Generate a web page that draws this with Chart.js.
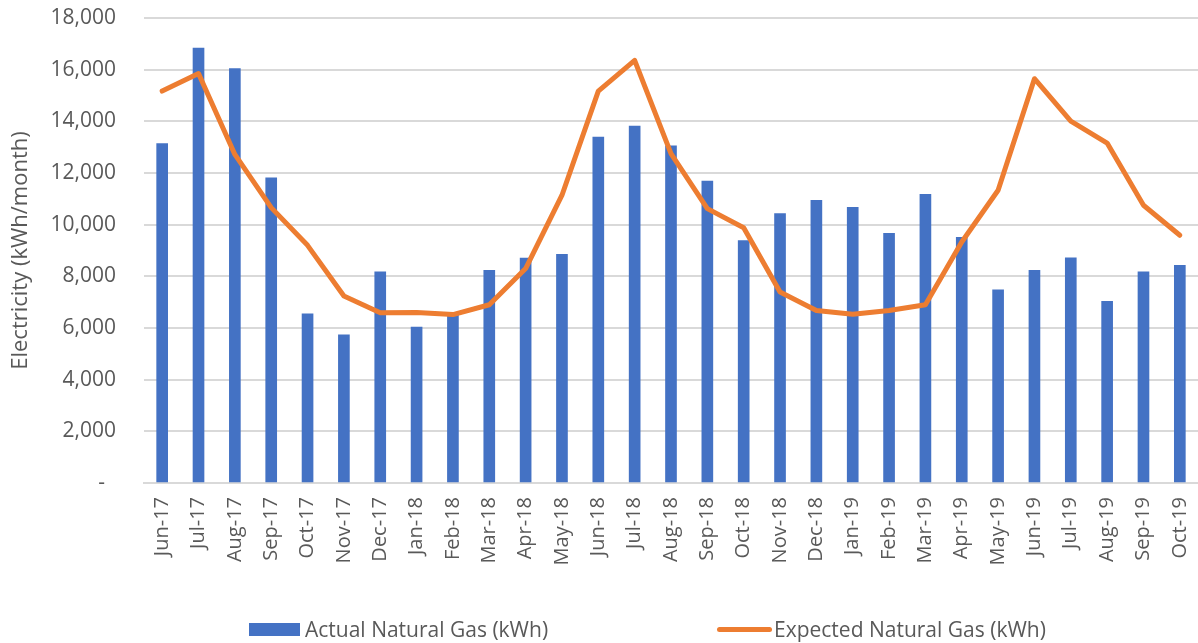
<!DOCTYPE html>
<html>
<head>
<meta charset="utf-8">
<title>Actual vs Expected Natural Gas</title>
<script src="https://cdn.jsdelivr.net/npm/chart.js@4.4.1/dist/chart.umd.min.js"></script>
<style>
  html, body { margin: 0; padding: 0; background: #fff; }
  #wrap { position: relative; width: 1198px; height: 643px; }
  #legend { font-family: "Open Sans", sans-serif; font-size: 21px; color: #595959; }
  .item { position: absolute; top: 614px; height: 30px; display: flex; align-items: center; white-space: nowrap; }
  .swatch { display: inline-block; margin-right: 5px; }
</style>
</head>
<body>
<div id="wrap">
  <canvas id="gasChart" width="1198" height="643"></canvas>
  <div id="legend">
    <div class="item" style="left:249px"><span class="swatch" style="width:51px;height:13px;background:#4472C4"></span>Actual Natural Gas (kWh)</div>
    <div class="item" style="left:717px"><span class="swatch" style="width:55px;height:5px;border-radius:3px;background:#ED7D31;margin-right:2px"></span>Expected Natural Gas (kWh)</div>
  </div>
</div>
<script>
// months on the x axis
var months = ['Jun-17', 'Jul-17', 'Aug-17', 'Sep-17', 'Oct-17', 'Nov-17', 'Dec-17',
  'Jan-18', 'Feb-18', 'Mar-18', 'Apr-18', 'May-18', 'Jun-18', 'Jul-18', 'Aug-18', 'Sep-18', 'Oct-18', 'Nov-18', 'Dec-18',
  'Jan-19', 'Feb-19', 'Mar-19', 'Apr-19', 'May-19', 'Jun-19', 'Jul-19', 'Aug-19', 'Sep-19', 'Oct-19'];

// kWh per month
var actualGas = [13140, 16840, 16040, 11810, 6550, 5740, 8170,
  6040, 6490, 8230, 8710, 8850, 13390, 13820, 13050, 11690, 9380, 10430, 10940,
  10670, 9660, 11170, 9510, 7480, 8230, 8720, 7030, 8170, 8430];

var expectedGas = [15170, 15850, 12720, 10660, 9200, 7240, 6590,
  6600, 6520, 6900, 8300, 11140, 15170, 16360, 12750, 10620, 9880, 7390, 6680,
  6530, 6680, 6900, 9330, 11330, 15650, 14010, 13160, 10750, 9590];

// y axis ticks
var yMin = 0;
var yMax = 18000;
var yStep = 2000;

var textColor = '#595959';
var gridColor = '#D9D9D9';
var fontFamily = '"Open Sans", sans-serif';

var ctx = document.getElementById('gasChart').getContext('2d');

var gasChart = new Chart(ctx, {
  type: 'bar',
  data: {
    labels: months,
    datasets: [
      {
        type: 'line',
        label: 'Expected Natural Gas (kWh)',
        data: expectedGas,
        borderColor: '#ED7D31',
        backgroundColor: '#ED7D31',
        borderWidth: 5,
        pointRadius: 0,
        tension: 0,
        borderJoinStyle: 'round',
        borderCapStyle: 'round',
        order: 0
      },
      {
        label: 'Actual Natural Gas (kWh)',
        data: actualGas,
        backgroundColor: '#4472C4',
        barThickness: 11,
        order: 1
      }
    ]
  },
  options: {
    responsive: false,
    animation: false,
    layout: { padding: { top: 18, right: -4, bottom: 0, left: 0 } },
    plugins: {
      legend: { display: false },
      tooltip: { enabled: false }
    },
    scales: {
      x: {
        grid: { display: false, drawTicks: false },
        border: { display: true, color: gridColor, width: 2 },
        ticks: {
          color: textColor,
          font: { family: fontFamily, size: 20 },
          minRotation: 90,
          maxRotation: 90,
          autoSkip: false,
          padding: 14
        },
        afterFit: function (scale) {
          scale.height = 160;
          // don't let the rotated labels push the plot edges in
          scale.paddingLeft = 0;
          scale.paddingRight = 0;
        }
      },
      y: {
        min: yMin,
        max: yMax,
        grid: { color: gridColor, lineWidth: 2, drawTicks: false },
        border: { display: false },
        ticks: {
          stepSize: yStep,
          color: textColor,
          font: { family: fontFamily, size: 21 },
          padding: 28,
          callback: function (v) { return v === 0 ? '-  ' : v.toLocaleString('en-US'); }
        },
        title: {
          display: true,
          text: 'Electricity (kWh/month)',
          color: textColor,
          font: { family: fontFamily, size: 22 },
          padding: { top: 8, bottom: 10 }
        },
        afterFit: function (scale) {
          scale.width = 144;
          scale.paddingTop = 0;
          scale.paddingBottom = 0;
        }
      }
    }
  }
});
</script>
</body>
</html>
